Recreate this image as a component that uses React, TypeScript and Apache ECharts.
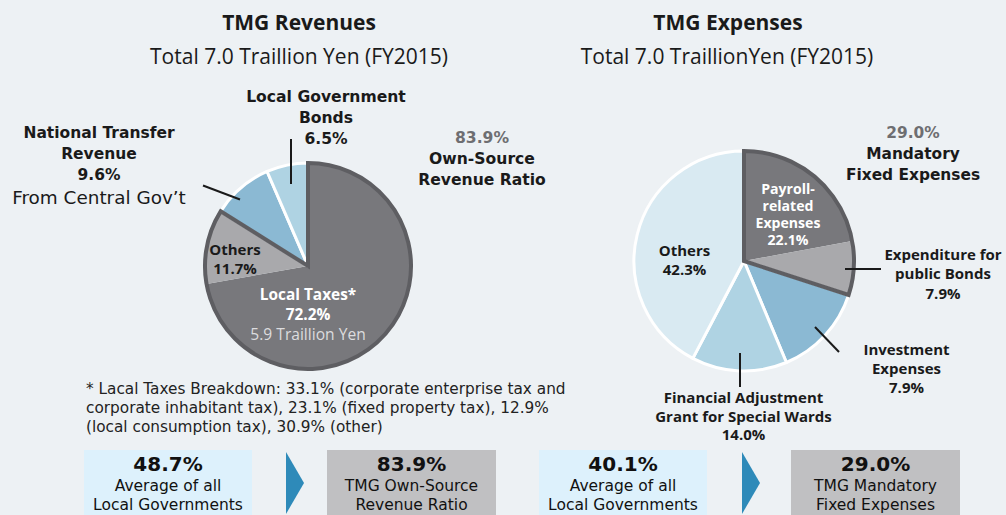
import React, { useEffect, useRef } from 'react';
import * as echarts from 'echarts';

// ---- Revenues pie ----
const revCategories = ['Local Taxes', 'Others', 'National Transfer Revenue', 'Local Government Bonds'];
const revValues = [72.2, 11.7, 9.6, 6.5];
const revColors = ['#78787c', '#a9a9ac', '#8bb9d3', '#afd3e3'];
const revWhiteEdge = [false, false, true, true];
const revGroupNames = ['Own-Source Revenue', 'Other Revenue'];
const revGroupCount = 2; // first N slices form the outlined group

// ---- Expenses pie ----
const expCategories = [
  'Payroll-related Expenses',
  'Expenditure for public Bonds',
  'Investment Expenses',
  'Financial Adjustment Grant for Special Wards',
  'Others',
];
const expValues = [22.1, 7.9, 13.7, 14.0, 42.3];
const expColors = ['#78787c', '#a9a9ac', '#8bb9d3', '#afd3e3', '#d9eaf2'];
const expWhiteEdge = [false, false, true, true, true];
const expGroupNames = ['Mandatory Fixed Expenses', 'Other Expenses'];
const expGroupCount = 2;

// ---- Text ----
const revTitle = 'TMG Revenues';
const revSubtitle = 'Total 7.0 Traillion Yen (FY2015)';
const expTitle = 'TMG Expenses';
const expSubtitle = 'Total 7.0 TraillionYen (FY2015)';
const footnoteLines = [
  '* Lacal Taxes Breakdown: 33.1% (corporate enterprise tax and',
  'corporate inhabitant tax), 23.1% (fixed property tax), 12.9%',
  '(local consumption tax), 30.9% (other)',
];
const boxPercents = ['48.7%', '83.9%', '40.1%', '29.0%'];
const boxLines = [
  ['Average of all', 'Local Governments'],
  ['TMG Own-Source', 'Revenue Ratio'],
  ['Average of all', 'Local Governments'],
  ['TMG Mandatory', 'Fixed Expenses'],
];

const FONT = '"Open Sans", sans-serif';
const WIDE = '"DejaVu Sans", sans-serif';
const DARK = '#1a1a1a';
const GREY = '#6e6e71';
const WHITE = '#ffffff';
const BORDER = '#5e5e62';

type Part = { t: string; size: number; bold: boolean; fill: string; lh: number; fam: string };
const P = (t: string, size: number, bold: boolean, fill: string, lh: number, fam: string = FONT): Part => ({
  t,
  size,
  bold,
  fill,
  lh,
  fam,
});

// one multi-line text block (rich text), top-anchored
function block(x: number, yTop: number, parts: Part[], align: string = 'center') {
  const rich: any = {};
  parts.forEach((p, i) => {
    rich['s' + i] = {
      fill: p.fill,
      fontSize: p.size,
      fontWeight: p.bold ? 'bold' : 'normal',
      fontFamily: p.fam,
      lineHeight: p.lh,
      align,
    };
  });
  return {
    type: 'text',
    x,
    y: yTop,
    silent: true,
    z: 10,
    style: {
      text: parts.map((p, i) => `{s${i}|${p.t}}`).join('\n'),
      rich,
      fill: parts[0].fill,
      font: `${parts[0].bold ? 'bold' : 'normal'} ${parts[0].size}px ${parts[0].fam}`,
      textAlign: align,
      textVerticalAlign: 'top',
      align,
      verticalAlign: 'top',
    },
  };
}

function leader(x1: number, y1: number, x2: number, y2: number) {
  return { type: 'line', silent: true, z: 10, shape: { x1, y1, x2, y2 }, style: { stroke: DARK, lineWidth: 2 } };
}

function baseSeries(center: number[], r: number, names: string[], values: number[], colors: string[], white: boolean[]) {
  return {
    type: 'pie',
    center,
    radius: r,
    startAngle: 90,
    clockwise: true,
    silent: true,
    z: 2,
    label: { show: false },
    labelLine: { show: false },
    emphasis: { disabled: true },
    data: values.map((v, i) => ({
      name: names[i],
      value: v,
      itemStyle: {
        color: colors[i],
        borderColor: white[i] ? '#ffffff' : colors[i],
        borderWidth: white[i] ? 3 : 0,
      },
    })),
  };
}

function groupSeries(center: number[], r: number, names: string[], values: number[], count: number) {
  const inGroup = values.slice(0, count).reduce((a, b) => a + b, 0);
  const rest = values.slice(count).reduce((a, b) => a + b, 0);
  return {
    type: 'pie',
    center,
    radius: r,
    startAngle: 90,
    clockwise: true,
    silent: true,
    z: 4,
    label: { show: false },
    labelLine: { show: false },
    emphasis: { disabled: true },
    data: [
      { name: names[0], value: inGroup, itemStyle: { color: 'rgba(0,0,0,0)', borderColor: BORDER, borderWidth: 4, borderJoin: 'miter' } },
      { name: names[1], value: rest, itemStyle: { color: 'rgba(0,0,0,0)', borderWidth: 0 } },
    ],
  };
}

export default function App() {
  const ref = useRef<HTMLDivElement>(null);
  useEffect(() => {
    document.body.style.margin = '0';
    if (!ref.current) return;
    const chart = echarts.init(ref.current, null, { renderer: 'svg' });

    const revCenter = [308, 266];
    const revR = 103;
    const expCenter = [744, 261];
    const expR = 110;

    const boxX = [84, 327, 539, 791];
    const boxW = [168, 169, 168, 169];
    const boxFill = ['#ddf1fc', '#c0c0c2', '#ddf1fc', '#c0c0c2'];

    const graphic: any[] = [
      block(299, 11, [P(revTitle, 21, true, DARK, 22)]),
      block(299, 45, [P(revSubtitle, 21, false, DARK, 22)]),
      block(728, 11, [P(expTitle, 21, true, DARK, 22)]),
      block(727, 45, [P(expSubtitle, 21, false, DARK, 22)]),

      block(326, 86.25, ['Local Government', 'Bonds', '6.5%'].map((s) => P(s, 15.6, true, DARK, 21.25, WIDE))),
      block(99, 122.25, [
        P('National Transfer', 15.5, true, DARK, 21.25, WIDE),
        P('Revenue', 15.5, true, DARK, 21.25, WIDE),
        P('9.6%', 15.5, true, DARK, 21.25, WIDE),
        P('From Central Gov\u2019t', 18.4, false, DARK, 22.5, WIDE),
      ]),
      block(482, 127.25, [
        P('83.9%', 15.6, true, GREY, 21.5, WIDE),
        P('Own-Source', 15.6, true, DARK, 21, WIDE),
        P('Revenue Ratio', 15.6, true, DARK, 21, WIDE),
      ]),
      block(235, 239, [P('Others', 15, true, DARK, 19), P('11.7%', 15, true, DARK, 19)]),
      block(308, 285, [
        P('Local Taxes*', 15.4, true, WHITE, 19.6),
        P('72.2%', 15.4, true, WHITE, 19.6),
        P('5.9 Traillion Yen', 15.6, false, '#dcdcde', 19.6),
      ]),
      block(86, 379.6, footnoteLines.map((s) => P(s, 15.3, false, '#222222', 18.8, WIDE)), 'left'),

      block(913, 121.75, [
        P('29.0%', 15.4, true, GREY, 21.5, WIDE),
        P('Mandatory', 15.4, true, DARK, 21, WIDE),
        P('Fixed Expenses', 15.4, true, DARK, 21, WIDE),
      ]),
      block(788, 179.4, ['Payroll-', 'related', 'Expenses', '22.1%'].map((s) => P(s, 14.1, true, WHITE, 17.3))),
      block(684.5, 240.75, ['Others', '42.3%'].map((s) => P(s, 15, true, DARK, 18.5))),
      block(943, 244.7, ['Expenditure for', 'public Bonds', '7.9%'].map((s) => P(s, 15, true, DARK, 19.2))),
      block(906.5, 339.6, ['Investment', 'Expenses', '7.9%'].map((s) => P(s, 15, true, DARK, 18.8))),
      block(743.5, 388.05, ['Financial Adjustment', 'Grant for Special Wards', '14.0%'].map((s) => P(s, 15, true, DARK, 18.5))),

      leader(203, 185.5, 240, 199.5),
      leader(291, 139, 291, 184),
      leader(845, 269, 881, 269),
      leader(815, 327, 839, 352),
      leader(740, 353, 740, 387),
    ];

    boxX.forEach((x, i) => {
      graphic.push({ type: 'rect', silent: true, z: 5, shape: { x, y: 450, width: boxW[i], height: 80 }, style: { fill: boxFill[i] } });
      const cx = x + boxW[i] / 2;
      graphic.push(
        block(cx, 453, [
          P(boxPercents[i], 20, true, '#111111', 22, WIDE),
          P(boxLines[i][0], 15.5, false, '#111111', 22, WIDE),
          P(boxLines[i][1], 15.5, false, '#111111', 16, WIDE),
        ])
      );
    });
    [286, 742].forEach((x) => {
      graphic.push({
        type: 'polygon',
        silent: true,
        z: 5,
        shape: { points: [[x, 452], [x + 18, 483], [x, 514]] },
        style: { fill: '#2e8ab9' },
      });
    });

    chart.setOption({
      animation: false,
      backgroundColor: '#edf1f4',
      series: [
        baseSeries(revCenter, revR, revCategories, revValues, revColors, revWhiteEdge),
        groupSeries(revCenter, revR, revGroupNames, revValues, revGroupCount),
        baseSeries(expCenter, expR, expCategories, expValues, expColors, expWhiteEdge),
        groupSeries(expCenter, expR, expGroupNames, expValues, expGroupCount),
      ],
      graphic,
    });
    return () => chart.dispose();
  }, []);
  return <div ref={ref} style={{ width: 1006, height: 515 }} />;
}
